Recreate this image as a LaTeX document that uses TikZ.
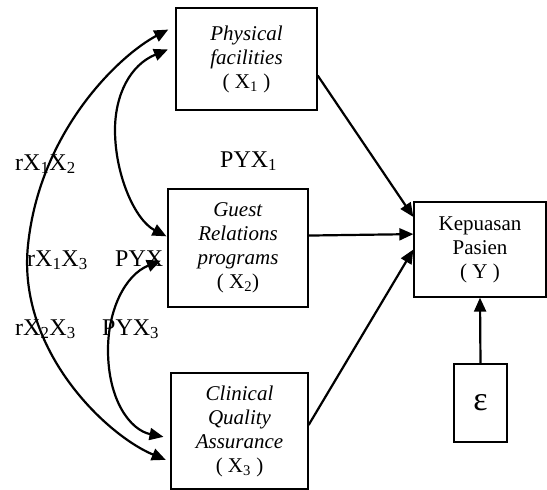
\documentclass[tikz,border=0pt]{standalone}
\usepackage{fontspec}
\setmainfont{Liberation Serif}
\usetikzlibrary{arrows.meta}

\begin{document}
\begin{tikzpicture}[x=1pt,y=-1pt,>={Triangle[length=14pt,width=12pt]},
  kotak/.style={draw,line width=1.3pt,inner sep=0pt,align=center,font=\fontsize{21}{24}\selectfont},
  koef/.style={anchor=base west,inner sep=0pt,font=\fontsize{24}{28}\selectfont},
  panah/.style={->,line width=2.2pt}]
  \useasboundingbox (0,0) rectangle (547,490);
  % koefisien
  \node[koef] (r12) at (15,170) {rX\textsubscript{1}X\textsubscript{2}};
  \node[koef] (p1) at (220,167) {PYX\textsubscript{1}};
  \node[koef] (r13) at (27,266) {rX\textsubscript{1}X\textsubscript{3}};
  \node[koef] (p2) at (115,266) {PYX};
  \node[koef] (r23) at (15,335) {rX\textsubscript{2}X\textsubscript{3}};
  \node[koef] (p3) at (102,335) {PYX\textsubscript{3}};
  % variabel
  \node[kotak,minimum width=141pt,minimum height=102pt] (x1) at (246.5,59) {\textit{Physical}\\\textit{facilities}\\( X\textsubscript{1} )};
  \node[kotak,minimum width=140pt,minimum height=118pt] (x2) at (238,248) {\textit{Guest}\\\textit{Relations}\\\textit{programs}\\( X\textsubscript{2})};
  \node[kotak,minimum width=137pt,minimum height=116pt] (x3) at (239.5,431) {\textit{Clinical}\\\textit{Quality}\\\textit{Assurance}\\( X\textsubscript{3} )};
  \node[kotak,minimum width=132pt,minimum height=95pt] (y) at (480,249.5) {Kepuasan\\Pasien\\( Y )};
  \node[kotak,minimum width=53pt,minimum height=78pt,font=\fontsize{34}{40}\selectfont] (eps) at (480.5,403) {ε};
  % jalur
  \draw[panah] (x1.347.2) -- (y.154.7);
  \draw[panah] (x2.10.5) -- (y.167.7);
  \draw[panah] (x3.5.4) -- (y.west);
  \draw[panah] (eps.north) -- (y.south);
  % korelasi
  \draw[<->,line width=2.2pt,shorten <=8pt,shorten >=5pt] (x1.155.6) .. controls (120,55) and (40,130) .. (28,245) .. controls (17,350) and (106,435) .. (x3.204);
  \draw[<->,line width=2.2pt,shorten <=8pt,shorten >=1pt] (x1.170.3) .. controls (130,65) and (115,95) .. (115,130) .. controls (115,175) and (135,220) .. (x2.171.9);
  \draw[<->,line width=2.2pt,shorten <=7pt,shorten >=7pt] (x2.188.1) .. controls (125,275) and (108,310) .. (108,350) .. controls (108,400) and (130,430) .. (x3.186.2);
\end{tikzpicture}
\end{document}
